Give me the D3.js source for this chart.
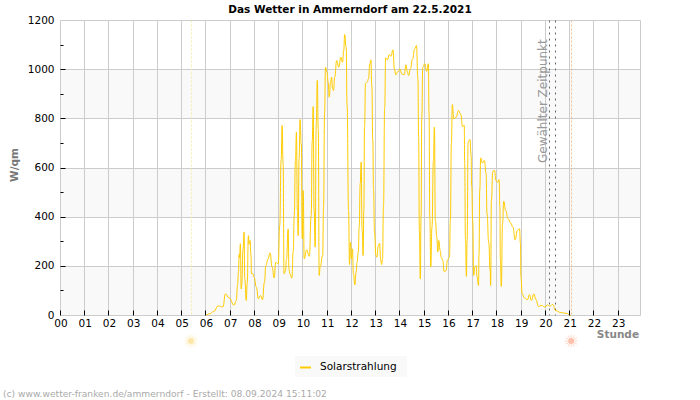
<!DOCTYPE html>
<html>
<head>
<meta charset="utf-8">
<script src="https://cdn.jsdelivr.net/npm/d3@7"></script>
<style>
	html, body { margin: 0; padding: 0; background: #fff; }
	svg { display: block; font-family: "DejaVu Sans", sans-serif; }
</style>
</head>
<body>
<svg id="chart" width="700" height="400"></svg>
<script>
// Stunde des Tages / Solarstrahlung in W/qm
var hours = [6, 6.15, 6.32, 6.5, 6.7, 6.8, 6.95, 7.16, 7.25, 7.3, 7.34, 7.37, 7.38, 7.42, 7.45, 7.47, 7.53, 7.57, 7.6, 7.66, 7.7, 7.75, 7.78, 7.82, 7.85, 7.88, 7.94, 7.98,
	8.08, 8.16, 8.25, 8.33, 8.41, 8.47, 8.56, 8.64, 8.73, 8.81, 8.88, 8.98,
	9.04, 9.10, 9.14, 9.18, 9.22, 9.28, 9.32, 9.39, 9.42, 9.46, 9.54, 9.60, 9.64, 9.69, 9.73, 9.77, 9.80, 9.84, 9.88, 9.93, 9.97,
	10.01, 10.05, 10.15, 10.26, 10.34, 10.38, 10.42, 10.46, 10.50, 10.55, 10.59, 10.63, 10.67, 10.71, 10.81, 10.85, 10.89, 10.93, 10.99,
	11.04, 11.08, 11.14, 11.18, 11.22, 11.26, 11.31, 11.39, 11.48, 11.56, 11.63, 11.68, 11.72, 11.78, 11.82, 11.88, 11.92, 11.96,
	12, 12.04, 12.08, 12.14, 12.19, 12.23, 12.28, 12.32, 12.36, 12.4, 12.44, 12.48, 12.51, 12.54, 12.58, 12.65, 12.7, 12.76, 12.8, 12.84, 12.88, 12.91, 12.95,
	13.01, 13.05, 13.1, 13.16, 13.2, 13.24, 13.28, 13.32, 13.37, 13.41, 13.48, 13.56, 13.63, 13.71, 13.77, 13.83, 13.9,
	14, 14.07, 14.17, 14.25, 14.3, 14.36, 14.43, 14.52, 14.61, 14.68, 14.74, 14.77, 14.8, 14.84, 14.87, 14.9, 14.94,
	15.02, 15.1, 15.17, 15.2, 15.23, 15.27, 15.32, 15.38, 15.42, 15.46, 15.52, 15.56, 15.6, 15.66, 15.7, 15.77, 15.82, 15.9, 15.96,
	16.04, 16.08, 16.12, 16.16, 16.22, 16.32, 16.41, 16.51, 16.58, 16.65, 16.67, 16.7, 16.74, 16.77, 16.81, 16.89, 16.93, 16.96,
	17, 17.04, 17.09, 17.14, 17.18, 17.24, 17.26, 17.29, 17.33, 17.4, 17.48, 17.55, 17.59, 17.66, 17.72, 17.74, 17.77, 17.83, 17.9, 17.96,
	18.02, 18.09, 18.12, 18.14, 18.18, 18.23, 18.28, 18.36, 18.46, 18.57, 18.66, 18.75, 18.84, 18.93, 18.97, 18.99,
	19.04, 19.13, 19.26, 19.34, 19.42, 19.52, 19.61, 19.71, 19.85, 19.98, 20.08, 20.18, 20.3, 20.42, 20.63, 20.85, 21.04];

var solar = [2, 7, 16, 39, 35, 88, 72, 42, 61, 122, 176, 250, 235, 292, 108, 120, 270, 339, 150, 61, 130, 325, 290, 305, 250, 170, 170, 156,
	115, 68, 81, 64, 135, 203, 230, 255, 197, 153, 217, 210,
	366, 633, 773, 622, 170, 183, 230, 352, 190, 170, 152, 264, 407, 630, 746, 427, 325, 637, 797, 698, 312,
	508, 230, 267, 241, 407, 705, 850, 427, 278, 786, 956, 759, 163, 197, 244, 441, 820, 1010, 990,
	949, 888, 949, 970, 922, 915, 970, 1037, 1010, 1051, 1030, 1078, 1143, 1092, 854, 427, 207, 298,
	230, 271, 170, 125, 176, 217, 258, 362, 536, 624, 346, 244, 427, 769, 945, 949, 963, 1024, 1040, 932, 712, 515, 339,
	244, 237, 281, 294, 230, 207, 230, 441, 847, 1048, 1040, 1062, 1054, 1081, 1003, 979, 990,
	1003, 983, 979, 1020, 993, 976, 1003, 1044, 1085, 1098, 963, 725, 346, 149, 400, 800, 1010,
	1024, 993, 1024, 820, 400, 197, 359, 630, 766, 386, 319, 258, 305, 264, 237, 223, 179, 183, 226,
	237, 389, 698, 858, 800, 807, 834, 818, 769, 773, 617, 312, 159, 305, 705, 716, 658, 522,
	386, 163, 197, 203, 156, 122, 251, 509, 641, 620, 631, 580, 414, 298, 183, 122, 468, 587, 590, 549,
	542, 553, 441, 230, 118, 373, 465, 427, 393, 376, 359, 308, 346, 353, 292, 156,
	88, 72, 64, 85, 61, 88, 64, 37, 41, 34, 43, 38, 45, 20, 12, 9, 1];

var hourTicks = d3.range(0, 24);
var valueTicks = d3.range(0, 1201, 200);
var minorTicks = d3.range(100, 1200, 200);
var bandStarts = [0, 400, 800];
var sunriseHour = 5.4;
var sunsetHour = 21.08;
var selectedHours = [20.17, 20.43];

var margin = { left: 60.5, right: 640.5, top: 20.5, bottom: 315.5 };

var x = d3.scaleLinear().domain([0, 23.92]).range([margin.left, margin.right]);
var y = d3.scaleLinear().domain([0, 1200]).range([margin.bottom, margin.top]);

var svg = d3.select('#chart');

function px(v) { return Math.floor(v) + 0.5; }

// alternating background
svg.selectAll('.band').data(bandStarts).enter().append('rect')
	.attr('class', 'band')
	.attr('x', margin.left)
	.attr('width', margin.right - margin.left)
	.attr('y', function(d) { return y(d + 200); })
	.attr('height', function(d) { return y(d) - y(d + 200); })
	.attr('fill', '#f9f9f9');

// grid
var grid = svg.append('g').attr('stroke', '#cccccc').attr('stroke-width', 1);
grid.selectAll('.gx').data(hourTicks.concat([23.92])).enter().append('line')
	.attr('x1', function(d) { return px(x(d)); })
	.attr('x2', function(d) { return px(x(d)); })
	.attr('y1', margin.top).attr('y2', margin.bottom);
grid.selectAll('.gy').data(valueTicks).enter().append('line')
	.attr('x1', margin.left).attr('x2', margin.right)
	.attr('y1', function(d) { return px(y(d)); })
	.attr('y2', function(d) { return px(y(d)); });

// sunrise, sunset, selected time
function vline(h, color, dash) {
	svg.append('line')
		.attr('x1', px(x(h))).attr('x2', px(x(h)))
		.attr('y1', margin.top).attr('y2', margin.bottom)
		.attr('stroke', color)
		.attr('stroke-dasharray', dash);
}
vline(sunriseHour, '#f4eeaa', '2,2');
vline(sunsetHour, '#f5c08e', '2,2');
selectedHours.forEach(function(h) { vline(h, '#666666', '2,4'); });

svg.append('text')
	.attr('transform', 'translate(547,163) rotate(-90)')
	.attr('font-size', 12)
	.attr('fill', '#999999')
	.text('Gewählter Zeitpunkt');

// the series
var line = d3.line()
	.curve(d3.curveBumpX)
	.x(function(d) { return x(d); })
	.y(function(d, i) { return y(solar[i]); });

svg.append('path')
	.attr('d', line(hours))
	.attr('fill', 'none')
	.attr('stroke', '#ffcc00')
	.attr('stroke-width', 1);

// axes
var xAxis = svg.append('g').attr('font-size', 10.5).attr('fill', '#000');
xAxis.selectAll('line').data(hourTicks).enter().append('line')
	.attr('x1', function(d) { return px(x(d)); })
	.attr('x2', function(d) { return px(x(d)); })
	.attr('y1', margin.bottom - 5).attr('y2', margin.bottom)
	.attr('stroke', '#000');
xAxis.selectAll('text').data(hourTicks).enter().append('text')
	.attr('x', function(d) { return x(d) + 0.5; })
	.attr('y', 327)
	.attr('text-anchor', 'middle')
	.text(function(d) { return d3.format('02d')(d); });

var yAxis = svg.append('g').attr('font-size', 10.5).attr('fill', '#000');
yAxis.selectAll('line.major').data(valueTicks.slice(1, -1)).enter().append('line')
	.attr('class', 'major')
	.attr('x1', margin.left).attr('x2', margin.left + 5)
	.attr('y1', function(d) { return px(y(d)); })
	.attr('y2', function(d) { return px(y(d)); })
	.attr('stroke', '#000');
yAxis.selectAll('line.minor').data(minorTicks).enter().append('line')
	.attr('class', 'minor')
	.attr('x1', margin.left).attr('x2', margin.left + 3)
	.attr('y1', function(d) { return px(y(d)); })
	.attr('y2', function(d) { return px(y(d)); })
	.attr('stroke', '#000');
yAxis.selectAll('text').data(valueTicks).enter().append('text')
	.attr('x', 54.5)
	.attr('y', function(d) { return y(d) + 3; })
	.attr('text-anchor', 'end')
	.text(function(d) { return d; });

// titles
svg.append('text')
	.attr('x', 350).attr('y', 13)
	.attr('text-anchor', 'middle')
	.attr('font-size', 10.5).attr('font-weight', 'bold')
	.text('Das Wetter in Ammerndorf am 22.5.2021');

svg.append('text')
	.attr('transform', 'translate(18,165) rotate(-90)')
	.attr('text-anchor', 'middle')
	.attr('font-size', 10.5).attr('font-weight', 'bold')
	.attr('fill', '#777777')
	.text('W/qm');

svg.append('text')
	.attr('x', 639).attr('y', 338)
	.attr('text-anchor', 'end')
	.attr('font-size', 10.5).attr('font-weight', 'bold')
	.attr('fill', '#888888')
	.text('Stunde');

// sun symbols
function sun(h, core, ray) {
	var g = svg.append('g').attr('transform', 'translate(' + (x(h) - 0.5) + ',341)');
	g.selectAll('line').data(d3.range(0, 360, 30)).enter().append('line')
		.attr('x1', 0).attr('x2', 0).attr('y1', 3).attr('y2', 6.5)
		.attr('transform', function(d) { return 'rotate(' + d + ')'; })
		.attr('stroke', ray);
	g.append('circle').attr('r', 3).attr('fill', core);
}
sun(sunriseHour, '#fde6a8', '#fdf0cc');
sun(sunsetHour, '#fcc0ac', '#fddcd0');

// legend
var legend = svg.append('g');
legend.append('rect').attr('x', 295).attr('y', 356).attr('width', 112).attr('height', 21).attr('fill', '#f9f9f9');
legend.append('line').attr('x1', 300).attr('x2', 311).attr('y1', 367.5).attr('y2', 367.5).attr('stroke', '#ffcc00').attr('stroke-width', 2);
legend.append('text').attr('x', 320).attr('y', 370).attr('font-size', 10.5).text('Solarstrahlung');

// footer
svg.append('text')
	.attr('x', 3).attr('y', 397)
	.attr('font-size', 9.15)
	.attr('fill', '#aaaaaa')
	.text('(c) www.wetter-franken.de/ammerndorf - Erstellt: 08.09.2024 15:11:02');
</script>
</body>
</html>
